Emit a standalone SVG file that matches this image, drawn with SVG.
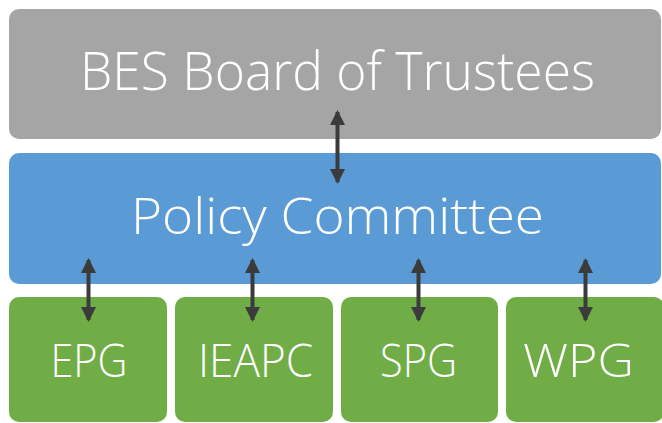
<svg xmlns="http://www.w3.org/2000/svg" width="662" height="423" viewBox="0 0 662 423">
<defs>
<style>
.lbl{font-family:"Open Sans","Liberation Sans",sans-serif;font-weight:350;fill:#fff;text-anchor:middle}
.conn{stroke:#3b3b3b;stroke-width:4;fill:none;marker-start:url(#ah);marker-end:url(#ah)}
</style>
<marker id="ah" viewBox="0 0 15 15" refX="13" refY="7.5" markerWidth="15" markerHeight="15" markerUnits="userSpaceOnUse" orient="auto-start-reverse">
<path d="M0,0 L15,7.5 L0,15 Z" fill="#3b3b3b"/>
</marker>
</defs>
<rect width="662" height="423" fill="#fff"/>
<g id="board">
<rect x="9" y="9" width="652" height="130" rx="10" fill="#A5A5A5"/>
<text class="lbl" x="337.5" y="90" font-size="53" textLength="515" lengthAdjust="spacingAndGlyphs">BES Board of Trustees</text>
</g>
<g id="policy">
<rect x="9" y="153" width="652" height="131" rx="10" fill="#5B9BD5"/>
<text class="lbl" x="337.5" y="234" font-size="50" textLength="413" lengthAdjust="spacingAndGlyphs">Policy Committee</text>
</g>
<g id="epg">
<rect x="9" y="297" width="158" height="125" rx="10" fill="#70AD47"/>
<text class="lbl" x="89" y="377" font-size="46" textLength="77" lengthAdjust="spacingAndGlyphs">EPG</text>
</g>
<g id="ieapc">
<rect x="175" y="297" width="158" height="125" rx="10" fill="#70AD47"/>
<text class="lbl" x="255.5" y="377" font-size="46" textLength="115" lengthAdjust="spacingAndGlyphs">IEAPC</text>
</g>
<g id="spg">
<rect x="341" y="297" width="157" height="125" rx="10" fill="#70AD47"/>
<text class="lbl" x="418.5" y="377" font-size="46" textLength="77" lengthAdjust="spacingAndGlyphs">SPG</text>
</g>
<g id="wpg">
<rect x="506" y="297" width="158" height="125" rx="10" fill="#70AD47"/>
<text class="lbl" x="578.5" y="377" font-size="46" textLength="111" lengthAdjust="spacingAndGlyphs">WPG</text>
</g>
<g id="connectors">
<line class="conn" x1="337.5" y1="112" x2="337.5" y2="182"/>
<line class="conn" x1="88.5" y1="260" x2="88.5" y2="320"/>
<line class="conn" x1="252.5" y1="260" x2="252.5" y2="320"/>
<line class="conn" x1="418.5" y1="260" x2="418.5" y2="320"/>
<line class="conn" x1="585.5" y1="260" x2="585.5" y2="320"/>
</g>
</svg>
